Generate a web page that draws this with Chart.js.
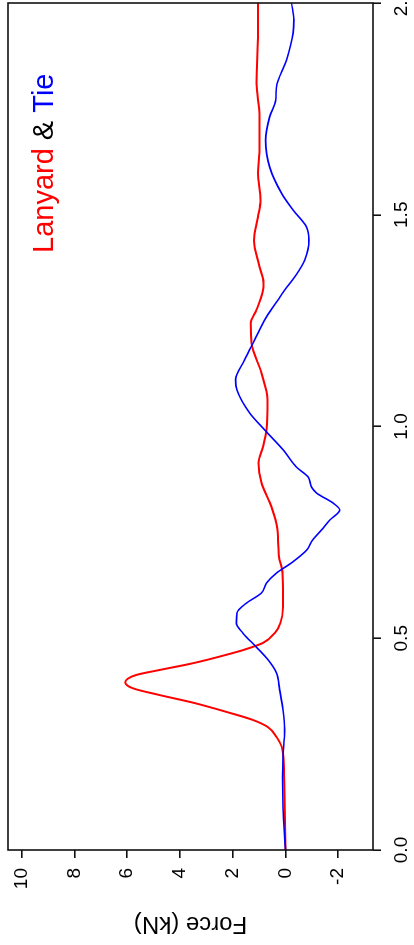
<!DOCTYPE html>
<html lang="en">
<head>
    <meta charset="UTF-8">
    <title>Lanyard & Tie</title>
    <script src="https://cdn.jsdelivr.net/npm/chart.js"></script>
    <style>
        body {
            margin: 0;
            background: #fff;
            overflow: hidden;
            width: 414px;
            height: 945px;
        }
        /* the plot is drawn landscape and turned a quarter turn anticlockwise */
        #wrap {
            position: absolute;
            left: 0;
            top: 0;
            width: 945px;
            height: 414px;
            transform-origin: 0 0;
            transform: translateY(945px) rotate(-90deg);
        }
    </style>
</head>
<body>
    <div id="wrap">
        <canvas id="forceChart" width="945" height="414"></canvas>
    </div>
    <script>
        // values (time in s, force in kN)
        const lanyardTime = [0, 0.10, 0.18, 0.236, 0.267, 0.29, 0.307, 0.324, 0.348, 0.366, 0.382, 0.396, 0.413, 0.425, 0.441, 0.463, 0.472, 0.489, 0.512, 0.536, 0.574, 0.654, 0.692, 0.732, 0.756, 0.81, 0.867, 0.914, 0.952, 0.992, 1.063, 1.126, 1.197, 1.244, 1.275, 1.322, 1.339, 1.377, 1.44, 1.495, 1.535, 1.599, 1.653, 1.731, 1.811, 1.929, 2.0];
        const lanyardForce = [0, 0.03, 0.05, 0.11, 0.34, 0.66, 1.23, 2.12, 3.51, 4.78, 5.79, 6.07, 5.67, 4.78, 3.51, 2.12, 1.61, 0.85, 0.41, 0.19, 0.09, 0.11, 0.24, 0.28, 0.30, 0.53, 0.91, 1.02, 0.85, 0.72, 0.68, 0.91, 1.29, 1.32, 1.10, 0.85, 0.83, 0.98, 1.19, 1.04, 0.95, 1.04, 0.98, 0.98, 1.10, 1.04, 1.04];

        const tieTime = [0, 0.10, 0.172, 0.22, 0.283, 0.331, 0.378, 0.418, 0.449, 0.479, 0.512, 0.536, 0.56, 0.583, 0.607, 0.63, 0.654, 0.678, 0.708, 0.732, 0.756, 0.779, 0.803, 0.819, 0.843, 0.857, 0.881, 0.904, 0.945, 0.992, 1.032, 1.086, 1.11, 1.157, 1.204, 1.259, 1.299, 1.322, 1.353, 1.393, 1.44, 1.471, 1.511, 1.551, 1.613, 1.676, 1.731, 1.771, 1.802, 1.865, 1.929, 1.96, 2.0];
        const tieForce = [0, 0.09, 0.11, 0.09, 0.03, 0.09, 0.22, 0.34, 0.66, 1.10, 1.61, 1.86, 1.84, 1.48, 0.91, 0.72, 0.34, -0.23, -0.80, -1.03, -1.37, -1.68, -2.06, -1.81, -1.18, -0.99, -0.86, -0.42, 0.09, 0.79, 1.36, 1.84, 1.89, 1.55, 1.17, 0.72, 0.28, 0.03, -0.35, -0.73, -0.89, -0.80, -0.29, 0.15, 0.60, 0.75, 0.60, 0.37, 0.34, -0.04, -0.29, -0.32, -0.23];

        const forceTicks = [-2, 0, 2, 4, 6, 8, 10];
        const timeTicks = [0, 0.5, 1, 1.5, 2];

        const fontFamily = '"Liberation Sans", Arial, Helvetica, sans-serif';
        const axisColor = '#111';

        function toPoints(xs, ys) {
            return xs.map((x, i) => ({ x: x, y: ys[i] }));
        }

        // R style box round the plot region plus the two-colour label
        const boxAndLabel = {
            id: 'boxAndLabel',
            afterDraw(chart) {
                const ctx = chart.ctx;
                const a = chart.chartArea;
                ctx.save();
                ctx.strokeStyle = axisColor;
                ctx.lineWidth = 1.6;
                ctx.strokeRect(a.left, a.top, a.right - a.left, a.bottom - a.top);

                ctx.font = '29px ' + fontFamily;
                ctx.textBaseline = 'alphabetic';
                let x = 692;
                const y = 53;
                const parts = [['Lanyard', '#ff0000'], [' & ', '#000000'], ['Tie', '#0000ff']];
                parts.forEach(p => {
                    ctx.fillStyle = p[1];
                    ctx.fillText(p[0], x, y);
                    x += ctx.measureText(p[0]).width;
                });
                ctx.restore();
            }
        };

        const ctx = document.getElementById('forceChart').getContext('2d');
        const forceChart = new Chart(ctx, {
            type: 'scatter',
            data: {
                datasets: [
                    {
                        label: 'Lanyard',
                        data: toPoints(lanyardTime, lanyardForce),
                        showLine: true,
                        borderColor: '#ff0000',
                        borderWidth: 2,
                        pointRadius: 0,
                        cubicInterpolationMode: 'monotone',
                        order: 2
                    },
                    {
                        label: 'Tie',
                        data: toPoints(tieTime, tieForce),
                        showLine: true,
                        borderColor: '#0000ff',
                        borderWidth: 1.6,
                        pointRadius: 0,
                        cubicInterpolationMode: 'monotone',
                        order: 1
                    }
                ]
            },
            options: {
                responsive: false,
                animation: false,
                layout: {
                    padding: { left: 0, right: 3, top: 8, bottom: 0 }
                },
                plugins: {
                    legend: { display: false },
                    tooltip: { enabled: false }
                },
                scales: {
                    x: {
                        type: 'linear',
                        position: 'bottom',
                        min: 0,
                        max: 2,
                        afterBuildTicks: scale => {
                            scale.ticks = timeTicks.map(v => ({ value: v }));
                        },
                        afterFit: scale => {
                            scale.height = 41;
                            scale.paddingLeft = 0;
                            scale.paddingRight = 0;
                        },
                        grid: {
                            drawOnChartArea: false,
                            drawTicks: true,
                            tickLength: 8,
                            color: axisColor,
                            lineWidth: 1.6
                        },
                        border: { display: false },
                        ticks: {
                            padding: 9,
                            maxRotation: 0,
                            color: '#000',
                            font: { family: fontFamily, size: 19 },
                            callback: v => Number(v).toFixed(1)
                        }
                    },
                    y: {
                        type: 'linear',
                        position: 'left',
                        min: -3.32,
                        max: 10.52,
                        afterBuildTicks: scale => {
                            scale.ticks = forceTicks.map(v => ({ value: v }));
                        },
                        afterFit: scale => {
                            scale.width = 95;
                            scale.paddingTop = 0;
                            scale.paddingBottom = 0;
                        },
                        grid: {
                            drawOnChartArea: false,
                            drawTicks: true,
                            tickLength: 8,
                            color: axisColor,
                            lineWidth: 1.6
                        },
                        border: { display: false },
                        ticks: {
                            padding: 10,
                            color: '#000',
                            font: { family: fontFamily, size: 19 },
                            callback: v => String(v)
                        },
                        title: {
                            display: true,
                            text: 'Force (kN)',
                            color: '#000',
                            font: { family: fontFamily, size: 24 },
                            padding: { top: 7, bottom: 0 }
                        }
                    }
                }
            },
            plugins: [boxAndLabel]
        });
    </script>
</body>
</html>
